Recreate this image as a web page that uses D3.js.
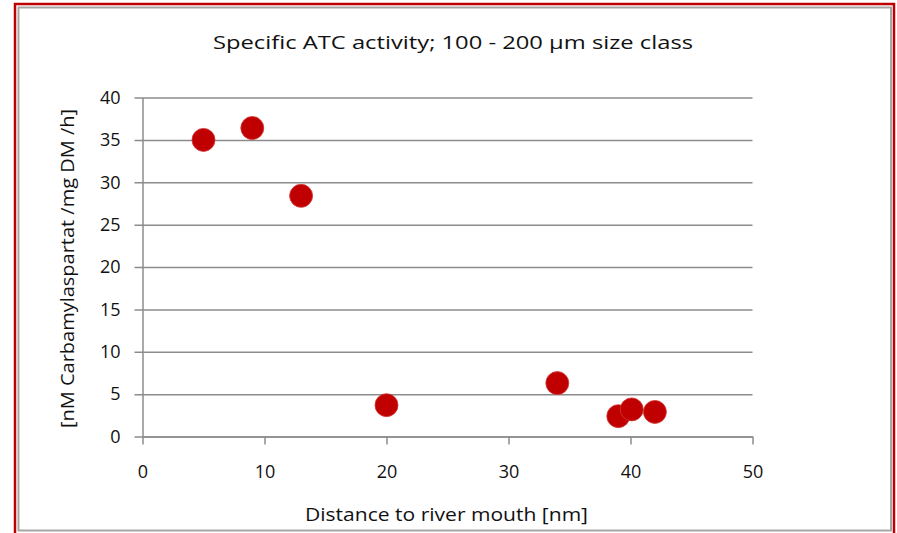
<!DOCTYPE html>
<html>
<head>
<meta charset="utf-8">
<script src="https://cdn.jsdelivr.net/npm/d3@7"></script>
<style>
  html, body { margin: 0; padding: 0; background: #ffffff; }
  svg { display: block; }
  text { font-family: "Open Sans", Lato, sans-serif; fill: #111; }
</style>
</head>
<body>
<svg id="chart" width="897" height="533"></svg>
<script>
const titleText = "Specific ATC activity; 100  - 200  \u00b5m size class";
const xTitle = "Distance to river mouth [nm]";
const yTitle = "[nM Carbamylaspartat  /mg DM /h]";
const distance = [5, 9, 13, 20, 34, 39, 40.1, 42];
const activity = [35.0, 36.4, 28.4, 3.7, 6.3, 2.4, 3.2, 2.9];
const xTicks = [0, 10, 20, 30, 40, 50];
const yTicks = [0, 5, 10, 15, 20, 25, 30, 35, 40];

const svg = d3.select("#chart");
const FONT = "'Open Sans', Lato, sans-serif";

// outer red frame and inner gray frame
svg.append("path")
  .attr("d", "M15,533 V4 H894 V533")
  .attr("fill", "none").attr("stroke", "#c00000").attr("stroke-width", 2.5);
svg.append("rect")
  .attr("x", 18.5).attr("y", 7.5).attr("width", 872.5).attr("height", 523)
  .attr("fill", "#fff").attr("stroke", "#a6a6a6").attr("stroke-width", 2);

const plot = { left: 142.5, right: 752.5, top: 97.5, bottom: 436.5 };
const x = d3.scaleLinear().domain([0, 50]).range([plot.left, plot.right]);
const y = d3.scaleLinear().domain([0, 40]).range([plot.bottom, plot.top]);

const yAxis = d3.axisLeft(y).tickValues(yTicks).tickSize(8).tickSizeOuter(0).tickFormat(d3.format("d"));
const gy = svg.append("g").attr("transform", `translate(${plot.left},0)`).call(yAxis);
gy.select(".domain").attr("stroke", "#8c8c8c").attr("stroke-width", 1.5);
gy.selectAll(".tick line").attr("stroke", "#8c8c8c").attr("stroke-width", 1.5)
  .attr("x2", plot.right - plot.left).attr("x1", -8);
gy.selectAll(".tick text").attr("x", -22).attr("font-size", 18).attr("fill", "#111")
  .style("font-family", FONT);

const xAxis = d3.axisBottom(x).tickValues(xTicks).tickSize(8).tickSizeOuter(0).tickFormat(d3.format("d"));
const gx = svg.append("g").attr("transform", `translate(0,${plot.bottom})`).call(xAxis);
gx.select(".domain").attr("stroke", "#8c8c8c").attr("stroke-width", 1.5);
gx.selectAll(".tick line").attr("stroke", "#8c8c8c").attr("stroke-width", 1.5);
gx.selectAll(".tick text").attr("y", 29).attr("font-size", 18).attr("fill", "#111")
  .style("font-family", FONT);

svg.append("g").selectAll("circle")
  .data(distance.map((d, i) => ({ x: d, y: activity[i] })))
  .join("circle")
  .attr("cx", d => x(d.x)).attr("cy", d => y(d.y)).attr("r", 11.5)
  .attr("fill", "#c00000").attr("stroke", "#d23a3a").attr("stroke-width", 0.8);

svg.append("text").attr("x", 453).attr("y", 49).attr("text-anchor", "middle")
  .attr("font-size", 19).attr("textLength", 480).attr("lengthAdjust", "spacingAndGlyphs")
  .text(titleText);
svg.append("text").attr("x", 446.5).attr("y", 521).attr("text-anchor", "middle")
  .attr("font-size", 18).attr("textLength", 283).attr("lengthAdjust", "spacingAndGlyphs")
  .text(xTitle);
svg.append("text").attr("transform", "translate(74,268.5) rotate(-90)").attr("text-anchor", "middle")
  .attr("font-size", 18).attr("textLength", 319).attr("lengthAdjust", "spacingAndGlyphs")
  .text(yTitle);
</script>
</body>
</html>
